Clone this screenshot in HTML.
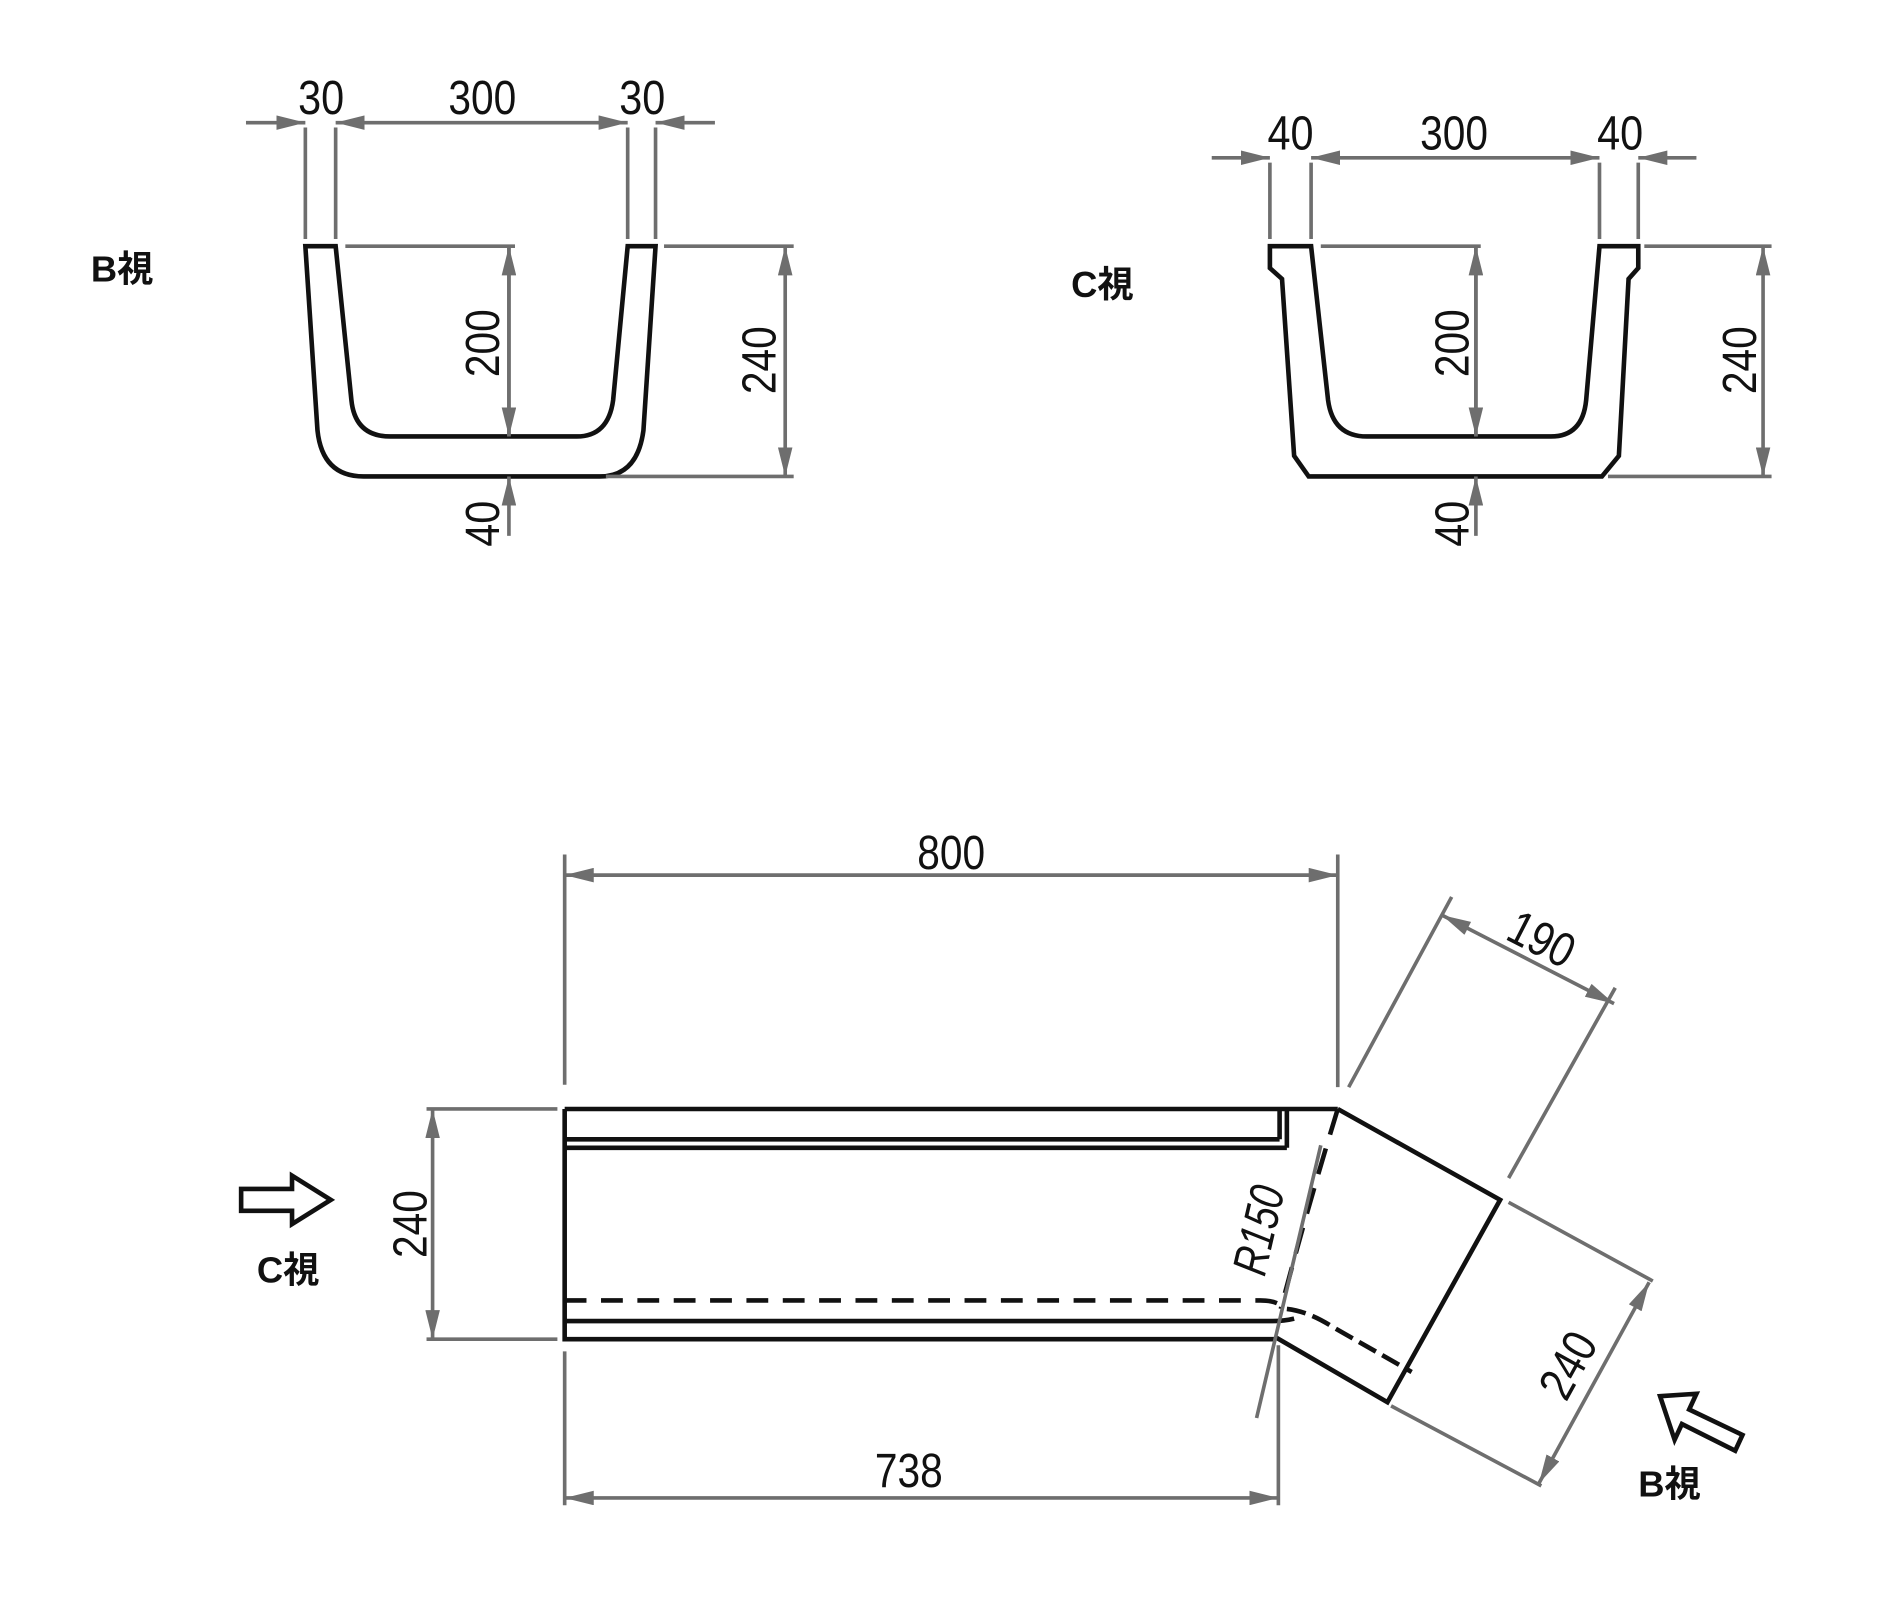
<!DOCTYPE html>
<html><head><meta charset="utf-8"><style>
html,body{margin:0;padding:0;background:#fff}
svg{display:block}
text{font-family:"Liberation Sans",sans-serif;fill:#111}
.d{stroke:#6e6e6e;stroke-width:3;fill:none}
.o{stroke:#111;stroke-width:3.8;fill:none;stroke-linejoin:miter}
.n{font-size:40px}
.j{font-family:"Liberation Sans","Noto Sans CJK JP",sans-serif;font-weight:bold;font-size:30px}
</style></head><body>
<svg width="1900" height="1600" viewBox="0 0 1568 1320" xmlns="http://www.w3.org/2000/svg">
<defs>
<marker id="a" markerUnits="userSpaceOnUse" markerWidth="24" markerHeight="12" refX="24" refY="6" orient="auto-start-reverse"><path d="M0,0 L24,6 L0,12 z" fill="#6e6e6e"/></marker>
</defs>

<!-- B section -->
<text class="j" x="75" y="232">B視</text>
<path class="d" d="M203,101 H252" marker-end="url(#a)"/>
<path class="d" d="M277,101 H518" marker-start="url(#a)" marker-end="url(#a)"/>
<path class="d" d="M590,101 H541" marker-end="url(#a)"/>
<path class="d" d="M252,105 V197 M277,105 V197 M518,105 V197 M541,105 V197"/>
<text class="n" x="265" y="94" text-anchor="middle" textLength="38" lengthAdjust="spacingAndGlyphs">30</text>
<text class="n" x="398" y="94" text-anchor="middle" textLength="56" lengthAdjust="spacingAndGlyphs">300</text>
<text class="n" x="530" y="94" text-anchor="middle" textLength="38" lengthAdjust="spacingAndGlyphs">30</text>
<path class="o" d="M252,203 H277 L290,330 Q293,360 322,360 H476 Q502,360 506,330 L518,203 H541 L531,355 Q526,393 495,393 H300 Q266,393 262,355 Z"/>
<path class="d" d="M285,203 H425 M548,203 H655 M500,393 H655"/>
<path class="d" d="M420,360 V203" marker-end="url(#a)"/>
<path class="d" d="M420,203 V360" marker-end="url(#a)"/>
<path class="d" d="M420,442 V393" marker-end="url(#a)"/>
<path class="d" d="M648,203 V393" marker-start="url(#a)" marker-end="url(#a)"/>
<text class="n" transform="translate(412,283) rotate(-90)" text-anchor="middle" textLength="56" lengthAdjust="spacingAndGlyphs">200</text>
<text class="n" transform="translate(412,432) rotate(-90)" text-anchor="middle" textLength="38" lengthAdjust="spacingAndGlyphs">40</text>
<text class="n" transform="translate(640,297) rotate(-90)" text-anchor="middle" textLength="56" lengthAdjust="spacingAndGlyphs">240</text>

<!-- C section -->
<text class="j" x="884" y="245">C視</text>
<path class="d" d="M1000,130 H1048" marker-end="url(#a)"/>
<path class="d" d="M1082,130 H1320" marker-start="url(#a)" marker-end="url(#a)"/>
<path class="d" d="M1400,130 H1352" marker-end="url(#a)"/>
<path class="d" d="M1048,134 V197 M1082,134 V197 M1320,134 V197 M1352,134 V197"/>
<text class="n" x="1065" y="123" text-anchor="middle" textLength="38" lengthAdjust="spacingAndGlyphs">40</text>
<text class="n" x="1200" y="123" text-anchor="middle" textLength="56" lengthAdjust="spacingAndGlyphs">300</text>
<text class="n" x="1337" y="123" text-anchor="middle" textLength="38" lengthAdjust="spacingAndGlyphs">40</text>
<path class="o" d="M1048,203 H1082 L1096,330 Q1100,360 1128,360 H1280 Q1306,360 1309,330 L1320,203 H1352 V221 L1344,230 L1336,376 L1322,393 H1080 L1068,376 L1058,230 L1048,221 Z"/>
<path class="d" d="M1090,203 H1222 M1357,203 H1462 M1327,393 H1462"/>
<path class="d" d="M1218,360 V203" marker-end="url(#a)"/>
<path class="d" d="M1218,203 V360" marker-end="url(#a)"/>
<path class="d" d="M1218,442 V393" marker-end="url(#a)"/>
<path class="d" d="M1455,203 V393" marker-start="url(#a)" marker-end="url(#a)"/>
<text class="n" transform="translate(1212,283) rotate(-90)" text-anchor="middle" textLength="56" lengthAdjust="spacingAndGlyphs">200</text>
<text class="n" transform="translate(1212,432) rotate(-90)" text-anchor="middle" textLength="38" lengthAdjust="spacingAndGlyphs">40</text>
<text class="n" transform="translate(1449,297) rotate(-90)" text-anchor="middle" textLength="56" lengthAdjust="spacingAndGlyphs">240</text>

<!-- Plan -->
<path class="d" d="M466,705 V895 M1104,705 V897"/>
<path class="d" d="M466,722 H1104" marker-start="url(#a)" marker-end="url(#a)"/>
<text class="n" x="785" y="717" text-anchor="middle" textLength="56" lengthAdjust="spacingAndGlyphs">800</text>

<path class="o" d="M466,915 H1104 M466,915 V1105 H1052 M466,940 H1056 M466,947 H1062 M1056,915 V940 M1062,915 V947 M466,1090 H1050 Q1060,1090 1068,1088"/>
<path class="o" stroke-dasharray="18,12" d="M466,1073 H1040 Q1055,1073 1060,1080"/>
<path class="o" d="M1104,915 L1238,990 L1145,1157 L1052,1103"/>
<path class="o" stroke-dasharray="22,12" d="M1104,915 Q1078,1000 1057,1080"/>
<path class="o" d="M1062,1080 Q1080,1082 1100,1095 L1165,1132" stroke-dasharray="16,6" stroke-width="4.5"/>
<path class="d" d="M1090,945 L1037,1170"/>
<text class="n" transform="translate(1052,1018) rotate(-77)" text-anchor="middle" font-style="italic" textLength="74" lengthAdjust="spacingAndGlyphs">R150</text>

<!-- 190 -->
<path class="d" d="M1113,897 L1198,740 M1245,972 L1333,815"/>
<path class="d" d="M1190,755 L1332,828" marker-start="url(#a)" marker-end="url(#a)"/>
<text class="n" transform="translate(1266,787) rotate(27)" text-anchor="middle" textLength="56" lengthAdjust="spacingAndGlyphs">190</text>
<!-- 240 bend -->
<path class="d" d="M1245,992 L1364,1057 M1148,1160 L1272,1226"/>
<path class="d" d="M1361,1058 L1270,1224" marker-start="url(#a)" marker-end="url(#a)"/>
<text class="n" transform="translate(1306,1133) rotate(-61)" text-anchor="middle" textLength="56" lengthAdjust="spacingAndGlyphs">240</text>

<!-- 738 -->
<path class="d" d="M466,1115 V1242 M1055,1110 V1242"/>
<path class="d" d="M466,1236 H1055" marker-start="url(#a)" marker-end="url(#a)"/>
<text class="n" x="750" y="1227" text-anchor="middle" textLength="56" lengthAdjust="spacingAndGlyphs">738</text>

<!-- 240 left -->
<path class="d" d="M352,915 H460 M352,1105 H460"/>
<path class="d" d="M357,915 V1105" marker-start="url(#a)" marker-end="url(#a)"/>
<text class="n" transform="translate(352,1010) rotate(-90)" text-anchor="middle" textLength="56" lengthAdjust="spacingAndGlyphs">240</text>

<!-- view arrows -->
<path class="o" stroke-width="3" d="M199,981 H241 V970 L273,990 L241,1010 V999 H199 Z"/>
<text class="j" x="212" y="1058">C視</text>
<path class="o" stroke-width="3" d="M1370,1152 L1400,1150 L1394,1163 L1438,1184 L1432,1197 L1388,1175 L1382,1188 Z"/>
<text class="j" x="1352" y="1235">B視</text>
</svg>
</body></html>
